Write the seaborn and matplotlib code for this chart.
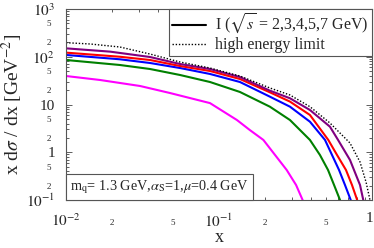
import matplotlib
matplotlib.use("Agg")
import matplotlib.pyplot as plt
import matplotlib.transforms as mtransforms
import seaborn as sns
import pandas as pd
from matplotlib.ticker import FixedLocator, FixedFormatter
from matplotlib.lines import Line2D
from matplotlib.offsetbox import AnchoredText

# ---- data ----
x_s2 = [0.01, 0.0167, 0.0305, 0.0478, 0.0873, 0.131, 0.159, 0.195, 0.277, 0.319, 0.352]
y_s2 = [39.5, 32.6, 24.4, 17.4, 10.7, 4.73, 2.92, 1.81, 0.425, 0.206, 0.1]

x_s3 = [0.01, 0.0225, 0.0354, 0.0556, 0.0873, 0.137, 0.215, 0.291, 0.393, 0.457, 0.516, 0.565, 0.618]
y_s3 = [85.5, 67.2, 55.4, 41.5, 29.6, 18.3, 9.0, 4.73, 1.81, 0.875, 0.425, 0.206, 0.1]

x_s4 = [0.01, 0.0225, 0.0354, 0.0556, 0.0873, 0.137, 0.215, 0.291, 0.393, 0.493, 0.548, 0.609, 0.666, 0.726]
y_s4 = [109, 88.5, 74.0, 58.1, 43.6, 29.6, 14.6, 9.0, 4.36, 1.81, 0.875, 0.425, 0.206, 0.1]

x_s5 = [0.01, 0.0225, 0.0354, 0.0556, 0.0873, 0.137, 0.215, 0.291, 0.393, 0.518, 0.591, 0.676, 0.74, 0.80]
y_s5 = [122, 100, 85.5, 64.0, 50.3, 34.2, 18.0, 11.5, 6.03, 1.81, 0.875, 0.425, 0.206, 0.1]

x_s7 = [0.01, 0.0194, 0.0354, 0.0556, 0.0873, 0.137, 0.215, 0.291, 0.393, 0.531, 0.600, 0.718, 0.786, 0.835, 0.877]
y_s7 = [150, 128, 98.8, 70.5, 55.4, 37.7, 19.5, 13.5, 7.67, 3.43, 1.81, 0.689, 0.334, 0.206, 0.1]

x_hel = [0.01, 0.0144, 0.0225, 0.0354, 0.0556, 0.0873, 0.137, 0.215, 0.291, 0.393, 0.531, 0.718, 0.835, 0.914, 0.97]
y_hel = [197, 185, 160, 114, 77.6, 58.1, 39.5, 22.2, 15.8, 9.0, 4.10, 1.56, 0.625, 0.238, 0.1]

series_names = ["2", "3", "4", "5", "7"]
series_colors = ["#ff00ff", "#008000", "#0000ff", "#ff0000", "#800080"]

y_major = [0.1, 1, 10, 100, 1000]
y_major_labels = [r"$10^{-1}$", "1", "10", r"$10^{2}$", r"$10^{3}$"]
x_major = [0.01, 0.1, 1]
x_major_labels = [r"$10^{-2}$", r"$10^{-1}$", "1"]

legend_labels = [r"I ($\sqrt{s}$ = 2,3,4,5,7 GeV)", "high energy limit"]
param_text = r"m$_{\rm q}$= 1.3 GeV,$\alpha_{\rm S}$=1,$\mu$=0.4 GeV"

# ---- build table ----
xs = [x_s2, x_s3, x_s4, x_s5, x_s7]
ys = [y_s2, y_s3, y_s4, y_s5, y_s7]
rows = []
for name, xv, yv in zip(series_names, xs, ys):
    for a, b in zip(xv, yv):
        rows.append({"x": a, "y": b, "s": name})
df = pd.DataFrame(rows)
df_hel = pd.DataFrame({"x": x_hel, "y": y_hel})

sns.set_style("ticks")
plt.rcParams["font.family"] = ["Liberation Serif", "DejaVu Serif"]
plt.rcParams["mathtext.fontset"] = "stix"

fig = plt.figure(figsize=(3.74, 2.48), dpi=100)
ax = fig.add_axes([66 / 374, 48 / 248, 306 / 374, 191 / 248])
ax.set_xscale("log")
ax.set_yscale("log")

sns.lineplot(data=df, x="x", y="y", hue="s", hue_order=series_names,
             palette=dict(zip(series_names, series_colors)),
             estimator=None, sort=False, lw=1.5, legend=False, ax=ax)
sns.lineplot(data=df_hel, x="x", y="y", color="black", estimator=None, sort=False,
             lw=1.0, ls=(0, (1, 1.3)), legend=False, ax=ax)

ax.set_xlim(0.01, 1)
ax.set_ylim(0.1, 1000)

# ticks
ax.yaxis.set_major_locator(FixedLocator(y_major))
ax.yaxis.set_major_formatter(FixedFormatter(y_major_labels))
ymin = [k * d for d in [0.1, 1, 10, 100] for k in range(2, 10)]
ax.yaxis.set_minor_locator(FixedLocator(ymin))
ax.yaxis.set_minor_formatter(FixedFormatter([str(k) if k in (2, 5) else "" for d in [0.1, 1, 10, 100] for k in range(2, 10)]))

ax.xaxis.set_major_locator(FixedLocator(x_major))
ax.xaxis.set_major_formatter(FixedFormatter(x_major_labels))
xmin = [k * d for d in [0.01, 0.1] for k in range(2, 10)]
ax.xaxis.set_minor_locator(FixedLocator(xmin))
ax.xaxis.set_minor_formatter(FixedFormatter([str(k) if k in (2, 5) else "" for d in [0.01, 0.1] for k in range(2, 10)]))

ax.tick_params(which="both", direction="in", top=True, right=True, color="#444444", width=0.6)
ax.tick_params(which="major", length=4, labelsize=11)
ax.tick_params(which="minor", length=2, labelsize=6.5)
ax.tick_params(axis="y", which="major", pad=8)
ax.tick_params(axis="y", which="minor", pad=11)
ax.tick_params(axis="x", which="major", pad=9)
ax.tick_params(axis="x", which="minor", pad=14)

# keep the "1" at the right end inside the figure
fig.canvas.draw()
last = ax.xaxis.get_majorticklabels()[-1]
last.set_transform(last.get_transform() + mtransforms.ScaledTranslation(-3 / 100, 0, fig.dpi_scale_trans))

for sp in ax.spines.values():
    sp.set_color("#555555")
    sp.set_linewidth(0.8)

ax.set_xlabel("x", fontsize=13)
ax.set_ylabel(r"x d$\sigma$ / dx [GeV$^{-2}$]", fontsize=14)
ax.xaxis.set_label_coords(0.5, -0.15)
ax.yaxis.set_label_coords(-0.135, 0.5)

handles = [Line2D([], [], color="black", lw=1.5),
           Line2D([], [], color="black", lw=1.0, ls=(0, (1, 1.3)))]
leg = ax.legend(handles, legend_labels, loc="upper right", bbox_to_anchor=(1, 1),
                borderaxespad=0, fontsize=11.5, handlelength=2.1, handletextpad=0.6,
                fancybox=False, framealpha=1, edgecolor="#555555",
                borderpad=0.2, labelspacing=0.05)
leg.get_frame().set_linewidth(0.8)

at = AnchoredText(param_text, loc="lower left", borderpad=0, pad=0.3,
                  prop=dict(size=10.3), frameon=True)
at.patch.set_edgecolor("#555555")
at.patch.set_linewidth(0.8)
at.patch.set_boxstyle("square,pad=0")
ax.add_artist(at)

fig.savefig("out.png", dpi=100)
